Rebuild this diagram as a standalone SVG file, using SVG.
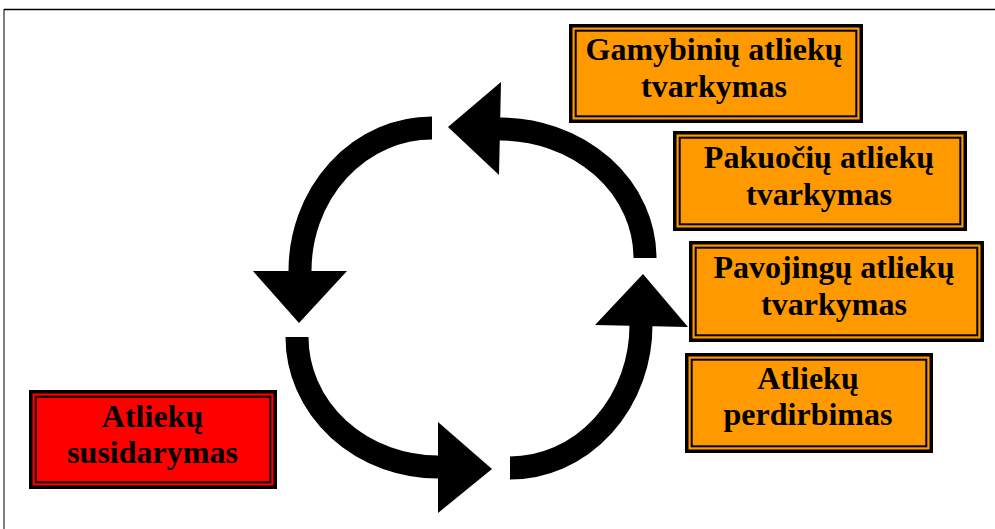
<svg xmlns="http://www.w3.org/2000/svg" width="995" height="529" viewBox="0 0 995 529">
  <style>
    .o { fill: #FF9900; stroke: #000; stroke-width: 3.5; }
    .r { fill: #FF0000; stroke: #000; stroke-width: 3.5; }
    .in { fill: none; stroke: #000; stroke-width: 2; }
    .t { font-family: "Liberation Serif", "Times New Roman", serif; font-weight: bold; font-size: 32px; fill: #000; text-anchor: middle; }
    .arc { fill: none; stroke: #000; stroke-width: 23; }
    .head { fill: #000; }
  </style>
  <rect x="0" y="0" width="995" height="529" fill="#fff"/>
  <g id="frame">
    <line x1="4" y1="9.5" x2="995" y2="9.5" stroke="#000" stroke-width="1.6"/>
    <line x1="4" y1="9" x2="4" y2="529" stroke="#000" stroke-width="1"/>
  </g>
  <g id="connectors">
    <path class="arc" d="M 432 128 A 132 143 0 0 0 300 272"/>
    <polygon class="head" points="253,271 347,271 299,323"/>
    <path class="arc" d="M 297 337 A 141 130 0 0 0 439 467"/>
    <polygon class="head" points="438,422 438,513 492,469"/>
    <path class="arc" d="M 510 468 A 131 143 0 0 0 641 324"/>
    <polygon class="head" points="595,325 688,327 643,274"/>
    <path class="arc" d="M 645 258 A 145 129 0 0 0 499 129"/>
    <polygon class="head" points="501,82 499,175 448,127"/>
  </g>
  <g id="gamybiniu">
    <rect class="o" x="570.75" y="25.75" width="290.5" height="95.5"/>
    <rect class="in" x="575.7" y="30.7" width="280.6" height="85.6"/>
    <text class="t" x="714" y="60">Gamybinių atliekų</text>
    <text class="t" x="714" y="97">tvarkymas</text>
  </g>
  <g id="pakuociu">
    <rect class="o" x="674.75" y="132.75" width="290.5" height="96.5"/>
    <rect class="in" x="679.7" y="137.7" width="280.6" height="86.6"/>
    <text class="t" x="819" y="168">Pakuočių atliekų</text>
    <text class="t" x="819" y="205">tvarkymas</text>
  </g>
  <g id="pavojingu">
    <rect class="o" x="690.75" y="242.75" width="291.5" height="97.5"/>
    <rect class="in" x="695.7" y="247.7" width="281.6" height="87.6"/>
    <text class="t" x="834" y="278">Pavojingų atliekų</text>
    <text class="t" x="834" y="315">tvarkymas</text>
  </g>
  <g id="perdirbimas">
    <rect class="o" x="686.75" y="354.75" width="244.5" height="96.5"/>
    <rect class="in" x="691.7" y="359.7" width="234.6" height="86.6"/>
    <text class="t" x="808" y="389">Atliekų</text>
    <text class="t" x="808" y="425">perdirbimas</text>
  </g>
  <g id="susidarymas">
    <rect class="r" x="30.75" y="391.75" width="244.5" height="95.5"/>
    <rect class="in" x="35.7" y="396.7" width="234.6" height="85.6"/>
    <text class="t" x="152.5" y="427">Atliekų</text>
    <text class="t" x="152.5" y="463">susidarymas</text>
  </g>
</svg>
